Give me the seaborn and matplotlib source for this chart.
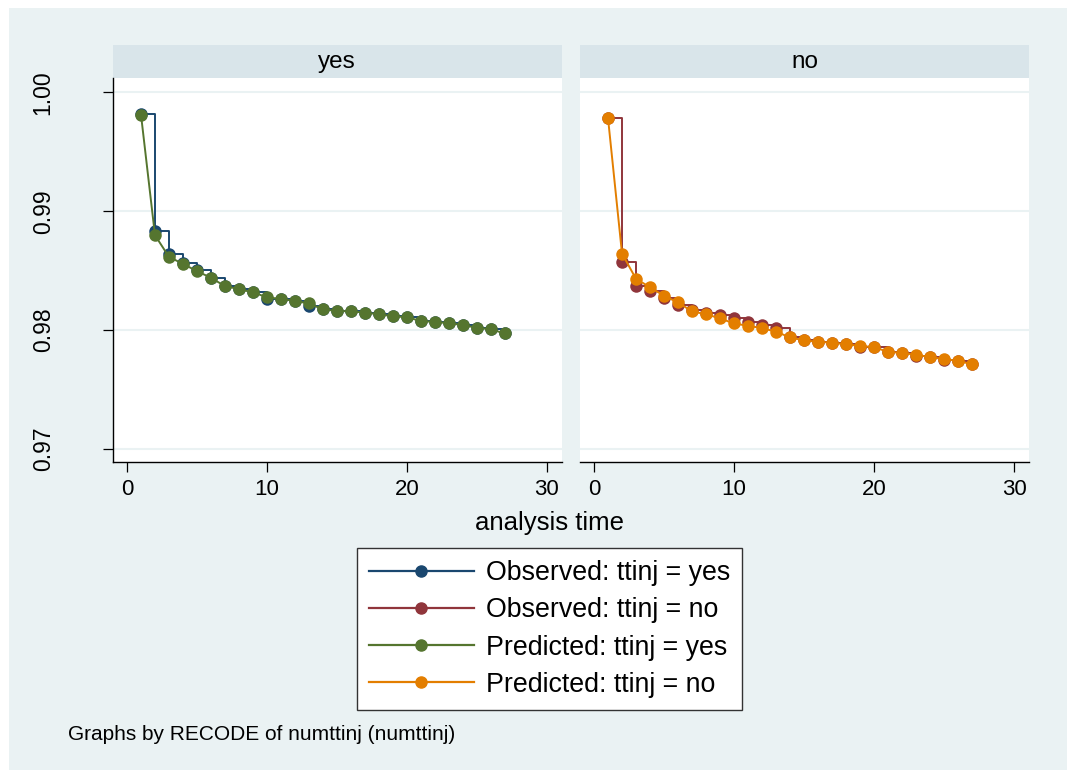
import matplotlib
matplotlib.use("Agg")
import matplotlib.pyplot as plt
from matplotlib.patches import Rectangle
from matplotlib.lines import Line2D
import pandas as pd
import seaborn as sb

# veriler
time = list(range(1, 28))

obs_yes = [0.99818, 0.98834, 0.98644, 0.98565, 0.98504, 0.98442, 0.98370, 0.98345, 0.98317, 0.98265,
           0.98261, 0.98246, 0.98202, 0.98174, 0.98162, 0.98157, 0.98148, 0.98132, 0.98118, 0.98107,
           0.98078, 0.98067, 0.98059, 0.98042, 0.98020, 0.98006, 0.97972]
pred_yes = [0.99813, 0.98798, 0.98616, 0.98557, 0.98496, 0.98440, 0.98370, 0.98345, 0.98317, 0.98277,
            0.98261, 0.98246, 0.98224, 0.98174, 0.98162, 0.98157, 0.98148, 0.98132, 0.98118, 0.98107,
            0.98078, 0.98067, 0.98059, 0.98042, 0.98020, 0.98006, 0.97972]
obs_no = [0.99780, 0.98574, 0.98370, 0.98328, 0.98266, 0.98210, 0.98165, 0.98148, 0.98126, 0.98098,
          0.98070, 0.98040, 0.98014, 0.97939, 0.97913, 0.97902, 0.97894, 0.97880, 0.97860, 0.97855,
          0.97812, 0.97807, 0.97782, 0.97773, 0.97748, 0.97738, 0.97712]
pred_no = [0.99784, 0.98644, 0.98431, 0.98361, 0.98288, 0.98233, 0.98157, 0.98134, 0.98098, 0.98056,
           0.98036, 0.98017, 0.97986, 0.97939, 0.97913, 0.97902, 0.97894, 0.97880, 0.97868, 0.97855,
           0.97818, 0.97807, 0.97793, 0.97773, 0.97756, 0.97742, 0.97712]

panels = ["yes", "no"]
labels = ["Observed: ttinj = yes", "Observed: ttinj = no",
          "Predicted: ttinj = yes", "Predicted: ttinj = no"]
yticks = [0.97, 0.98, 0.99, 1.00]
xticks = [0, 10, 20, 30]

navy, maroon, green, orange = "#1A476F", "#90353B", "#55752F", "#E37E00"
bg = "#EAF2F3"
strip = "#D9E5EA"

plt.rcParams["font.family"] = ["Liberation Sans", "DejaVu Sans"]

W, H = 1067, 770
fig = plt.figure(figsize=(W / 100, H / 100), dpi=100, facecolor="white")
fig.patches.append(Rectangle((9 / W, 0), 1, 1 - 8 / H, transform=fig.transFigure,
                             fc=bg, ec="none", zorder=-10))


def box(l, t, r, b):
    return [l / W, 1 - b / H, (r - l) / W, (b - t) / H]


top, bottom = 78.3, 462.3
ax1 = fig.add_axes(box(113, top, 561.7, bottom))
ax2 = fig.add_axes(box(580, top, 1029, bottom))

series = [
    (ax1, obs_yes, navy, "steps-post"),
    (ax1, pred_yes, green, "default"),
    (ax2, obs_no, maroon, "steps-post"),
    (ax2, pred_no, orange, "default"),
]
for ax, vals, col, ds in series:
    df = pd.DataFrame({"t": time, "s": vals})
    sb.lineplot(data=df, x="t", y="s", ax=ax, color=col, marker="o", markersize=9,
                mec=col, mew=0, linewidth=1.4, drawstyle=ds)

for ax, name in zip([ax1, ax2], panels):
    ax.set_facecolor("white")
    ax.set_xlim(-1.0, 31.07)
    ax.set_ylim(0.96888, 1.00118)
    ax.set_xticks(xticks)
    ax.set_yticks(yticks)
    ax.set_xlabel("")
    ax.set_ylabel("")
    ax.yaxis.grid(True, color=bg, linewidth=1.5)
    ax.set_axisbelow(True)
    for s in ["top", "right", "left"]:
        ax.spines[s].set_visible(False)
    ax.spines["bottom"].set_linewidth(1.0)
    ax.tick_params(axis="x", length=7, width=0.9, pad=5, labelsize=16)
    h = (top - 45) / (bottom - top)
    ax.add_patch(Rectangle((0, 1), 1, h, transform=ax.transAxes, clip_on=False,
                           fc=strip, ec="none"))
    ax.text(0.5, 1 + h / 2, name, transform=ax.transAxes, ha="center", va="center",
            fontsize=17.5)

ax1.spines["left"].set_visible(True)
ax1.spines["left"].set_linewidth(1.0)
ax1.tick_params(axis="y", length=7, width=0.9, pad=35, labelsize=16.5, labelrotation=90)
for lab in ax1.get_yticklabels():
    lab.set_va("center")
ax1.set_yticklabels([f"{v:.2f}" for v in yticks])
ax2.tick_params(axis="y", left=False, labelleft=False)

fig.text(550 / W, 1 - 523 / H, "analysis time", ha="center", va="center", fontsize=18.5)
fig.text(68 / W, 1 - 735 / H, "Graphs by RECODE of numttinj (numttinj)", ha="left",
         va="center", fontsize=15)

handles = [Line2D([], [], color=c, marker="o", markersize=8, linewidth=1.6)
           for c in [navy, maroon, green, orange]]
leg = fig.legend(handles, labels, loc="upper center", bbox_to_anchor=(549.5 / W, 1 - 548 / H),
                 frameon=True, fancybox=False, fontsize=19.3, handlelength=3.9,
                 handletextpad=0.45, labelspacing=0.42, borderpad=0.45, borderaxespad=0,
                 framealpha=1)
leg.get_frame().set_edgecolor("#333333")
leg.get_frame().set_linewidth(1.0)

fig.savefig("out.png", dpi=100, facecolor=fig.get_facecolor())
